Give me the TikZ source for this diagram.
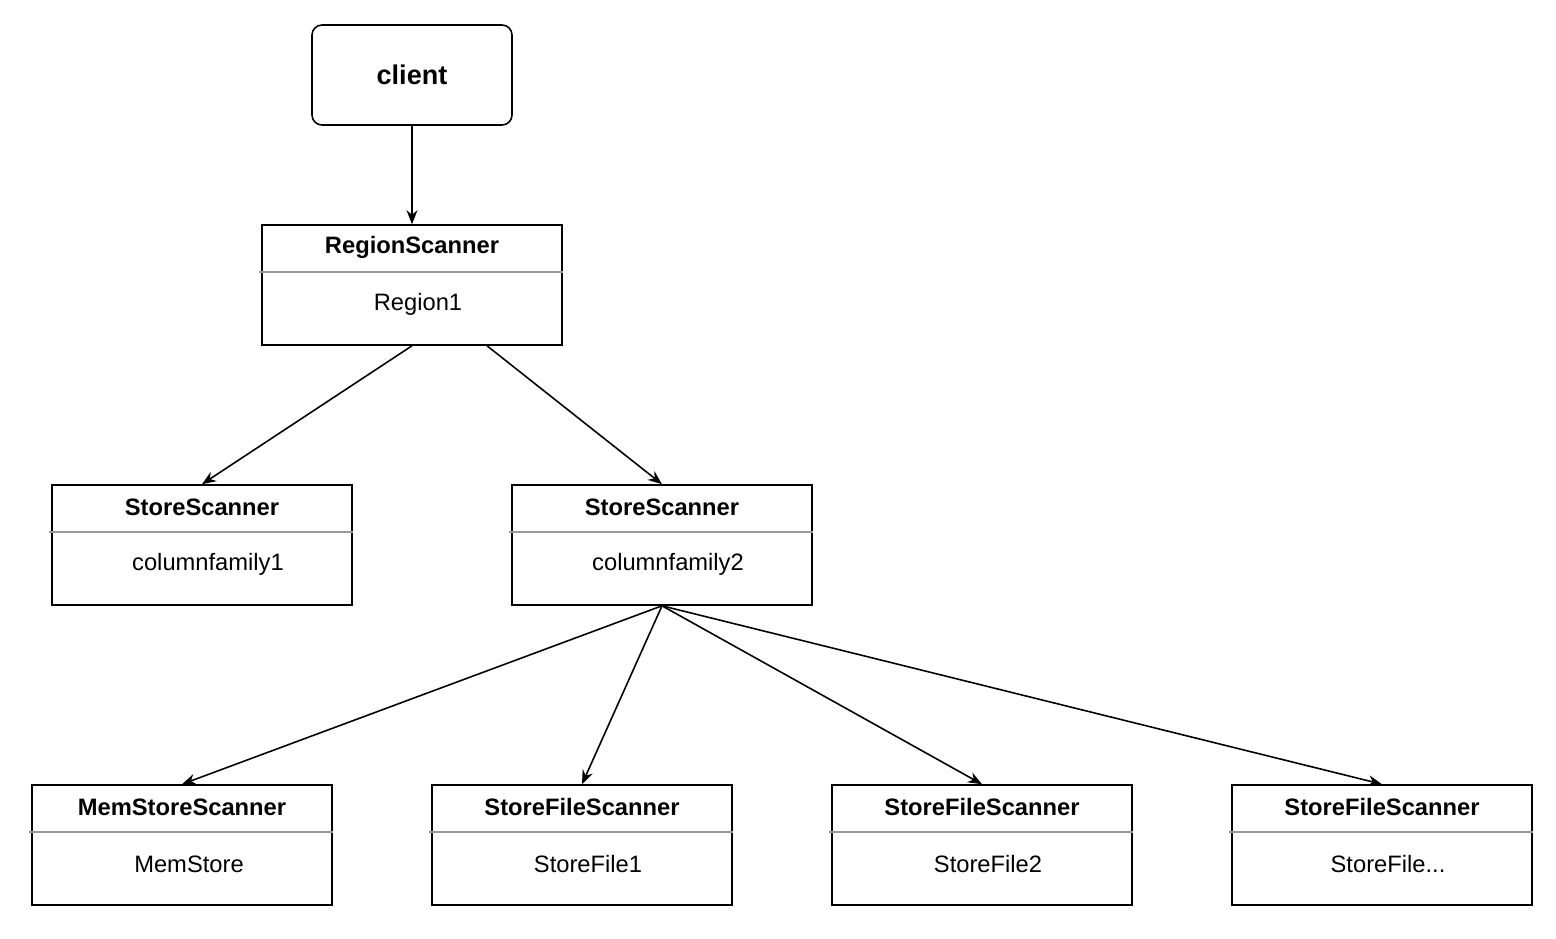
\documentclass[tikz,border=0pt]{standalone}
\usepackage{fontspec}
\setmainfont{Liberation Sans}
\usetikzlibrary{arrows.meta,positioning}

\begin{document}
\begin{tikzpicture}[
		clientbox/.style={rectangle, draw, rounded corners=0.2cm, line width=0.9pt, minimum width=4cm, minimum height=2cm, font=\fontsize{15.4}{18}\selectfont\bfseries},
		classbox/.style={rectangle, draw, line width=0.9pt, minimum width=6cm, minimum height=2.4cm, inner sep=0pt},
		title/.style={inner sep=0pt, font=\fontsize{13.5}{16}\selectfont\bfseries},
		body/.style={inner sep=0pt, font=\fontsize{13.5}{16}\selectfont},
		sepline/.style={draw=black!40, line width=1.1pt},
		arrow/.style={-{Stealth[length=0.28cm, width=0.22cm]}, line width=0.9pt}
		]
		\useasboundingbox (0,0) rectangle (31.12,-18.76);

		% Client
		\node[clientbox] (client) at (8.24,-1.5) {client};

		% Region scanner
		\node[classbox] (regscan) at (8.24,-5.7) {};
		\node[title] (regscan-title) at ([yshift=-0.46cm]regscan.north) {RegionScanner};
		\node[body] (regscan-body) at ([xshift=0.12cm, yshift=-1.6cm]regscan.north) {Region1};
		\draw[sepline] ([xshift=-0.04cm, yshift=-0.96cm]regscan.north west) -- ([yshift=-0.96cm]regscan.north east);

		% Store scanners
		\node[classbox] (storescan1) at (4.04,-10.9) {};
		\node[title] (storescan1-title) at ([yshift=-0.46cm]storescan1.north) {StoreScanner};
		\node[body] (storescan1-body) at ([xshift=0.12cm, yshift=-1.6cm]storescan1.north) {columnfamily1};
		\draw[sepline] ([xshift=-0.04cm, yshift=-0.96cm]storescan1.north west) -- ([yshift=-0.96cm]storescan1.north east);

		\node[classbox] (storescan2) at (13.24,-10.9) {};
		\node[title] (storescan2-title) at ([yshift=-0.46cm]storescan2.north) {StoreScanner};
		\node[body] (storescan2-body) at ([xshift=0.12cm, yshift=-1.6cm]storescan2.north) {columnfamily2};
		\draw[sepline] ([xshift=-0.04cm, yshift=-0.96cm]storescan2.north west) -- ([yshift=-0.96cm]storescan2.north east);

		% MemStore scanner
		\node[classbox] (memscan) at (3.64,-16.9) {};
		\node[title] (memscan-title) at ([yshift=-0.46cm]memscan.north) {MemStoreScanner};
		\node[body] (memscan-body) at ([xshift=0.14cm, yshift=-1.6cm]memscan.north) {MemStore};
		\draw[sepline] ([xshift=-0.04cm, yshift=-0.96cm]memscan.north west) -- ([yshift=-0.96cm]memscan.north east);

		% StoreFile scanners
		\node[classbox] (filescan1) at (11.64,-16.9) {};
		\node[title] (filescan1-title) at ([yshift=-0.46cm]filescan1.north) {StoreFileScanner};
		\node[body] (filescan1-body) at ([xshift=0.12cm, yshift=-1.6cm]filescan1.north) {StoreFile1};
		\draw[sepline] ([xshift=-0.04cm, yshift=-0.96cm]filescan1.north west) -- ([yshift=-0.96cm]filescan1.north east);

		\node[classbox] (filescan2) at (19.64,-16.9) {};
		\node[title] (filescan2-title) at ([yshift=-0.46cm]filescan2.north) {StoreFileScanner};
		\node[body] (filescan2-body) at ([xshift=0.12cm, yshift=-1.6cm]filescan2.north) {StoreFile2};
		\draw[sepline] ([xshift=-0.04cm, yshift=-0.96cm]filescan2.north west) -- ([yshift=-0.96cm]filescan2.north east);

		\node[classbox] (filescan3) at (27.64,-16.9) {};
		\node[title] (filescan3-title) at ([yshift=-0.46cm]filescan3.north) {StoreFileScanner};
		\node[body] (filescan3-body) at ([xshift=0.12cm, yshift=-1.6cm]filescan3.north) {StoreFile...};
		\draw[sepline] ([xshift=-0.04cm, yshift=-0.96cm]filescan3.north west) -- ([yshift=-0.96cm]filescan3.north east);

		% Arrows
		\draw[arrow] (client.south) -- (regscan.north);
		\draw[arrow] (regscan.south) -- (storescan1.north);
		\draw[arrow] ([xshift=1.5cm]regscan.south) -- (storescan2.north);

		\draw[arrow] (storescan2.south) -- (memscan.north);
		\draw[arrow] (storescan2.south) -- (filescan1.north);
		\draw[arrow] (storescan2.south) -- (filescan2.north);
		\draw[arrow] (storescan2.south) -- (filescan3.north);

	\end{tikzpicture}
\end{document}
